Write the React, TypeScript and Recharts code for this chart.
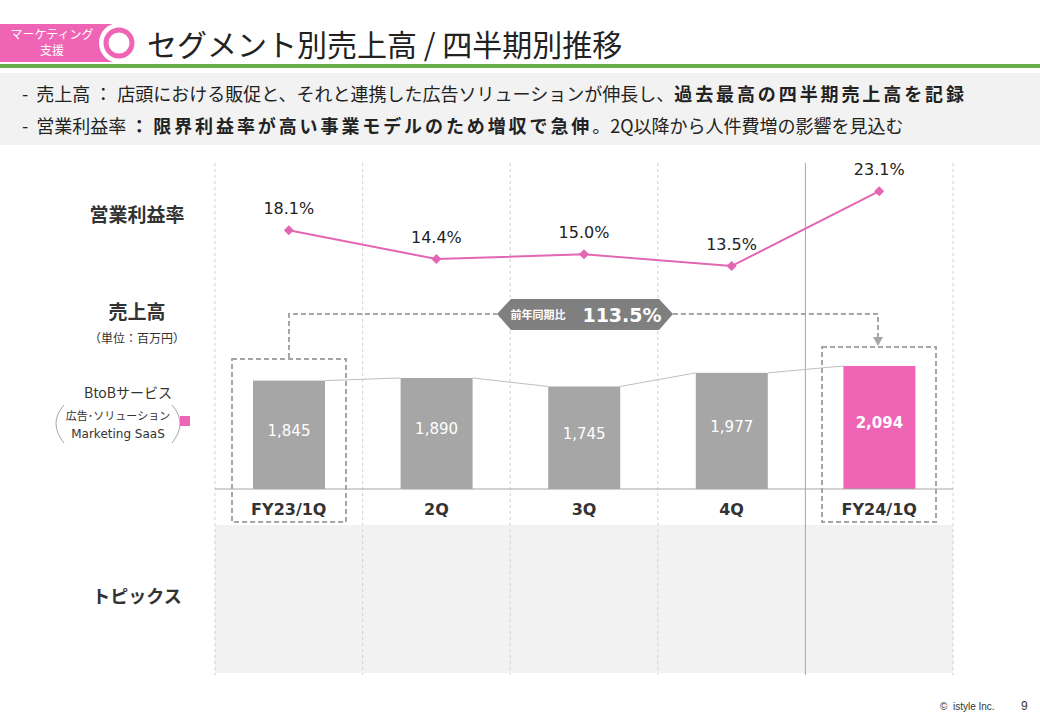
import { ComposedChart, Bar, Line, XAxis, YAxis, Cell, LabelList } from "recharts";

const quarters = ["FY23/1Q", "2Q", "3Q", "4Q", "FY24/1Q"];
const sales = [1845, 1890, 1745, 1977, 2094];
const margins = [18.1, 14.4, 15.0, 13.5, 23.1];
const barColors = ["#A6A6A6", "#A6A6A6", "#A6A6A6", "#A6A6A6", "#F064B6"];

const data = quarters.map((q, i) => ({ q, sales: sales[i], margin: margins[i] }));

const JP = "'Noto Sans CJK JP', 'Noto Sans', sans-serif";
const NUM = "'DejaVu Sans', Verdana, sans-serif";
const PINK = "#E366B3";

const CHART_LEFT = 215;
const CHART_W = 738;
const BAND = CHART_W / quarters.length;

function BarWithLink(props: any) {
  const { x, y, width, height, index } = props;
  const next = sales[index + 1];
  let link = null;
  if (next !== undefined) {
    const nextY = y + height - (height * next) / sales[index];
    link = <line x1={x + width} y1={y} x2={x + BAND} y2={nextY} stroke="#BFBFBF" strokeWidth={1} />;
  }
  return (
    <g>
      <rect x={x} y={y} width={width} height={height} fill={barColors[index]} />
      {link}
    </g>
  );
}

function Diamond(props: any) {
  const { cx, cy, index } = props;
  if (cx == null || cy == null) return <g key={index} />;
  const s = 5;
  return <path key={index} d={`M${cx},${cy - s}L${cx + s},${cy}L${cx},${cy + s}L${cx - s},${cy}Z`} fill={PINK} />;
}

function QuarterTick(props: any) {
  const { x, y, payload } = props;
  return (
    <text x={x} y={y + 18} textAnchor="middle" fontFamily={NUM} fontWeight="bold" fontSize={16} fill="#333">
      {payload.value}
    </text>
  );
}

function SalesLabel(props: any) {
  const { x, y, width, height, value, index } = props;
  const last = index === quarters.length - 1;
  return (
    <text
      x={x + width / 2}
      y={y + height / 2 - 4}
      textAnchor="middle"
      dominantBaseline="central"
      fontFamily={NUM}
      fontSize={15}
      fontWeight={last ? "bold" : "normal"}
      fill="#fff"
    >
      {value.toLocaleString("en-US")}
    </text>
  );
}

const separators = [0, 1, 2, 3, 4, 5].map((i) => CHART_LEFT + i * BAND);

const boldStyle = { fontWeight: "bold" as const, letterSpacing: 2.9 };
const colonStyle = { margin: "0 5px 0 4px" };

export default function App() {
  return (
    <div style={{ position: "absolute", left: 0, top: 0, width: 1040, height: 720, background: "#fff", overflow: "hidden", fontFamily: JP }}>
      {/* header */}
      <svg width={1040} height={70} style={{ position: "absolute", left: 0, top: 0 }}>
        <rect x={0} y={24} width={112} height={38} fill="#F064B6" />
        <circle cx={119} cy={43} r={20} fill="#fff" />
        <circle cx={119} cy={43} r={13} fill="none" stroke="#F064B6" strokeWidth={5} />
        <text x={52} y={39} textAnchor="middle" fill="#fff" fontSize={12} fontFamily={JP}>マーケティング</text>
        <text x={52} y={55} textAnchor="middle" fill="#fff" fontSize={12} fontFamily={JP}>支援</text>
        <text x={147} y={56} fill="#222" fontSize={30} fontFamily={JP}>セグメント別売上高 / 四半期別推移</text>
        <rect x={0} y={64} width={1040} height={4} fill="#6AAE4B" />
      </svg>

      {/* summary box */}
      <div style={{ position: "absolute", left: 0, top: 73, width: 1040, height: 72, background: "#F2F2F2" }}>
        <div style={{ position: "absolute", left: 22, top: 7, fontSize: 18, color: "#222", whiteSpace: "nowrap" }}>
          -&nbsp; 売上高<span style={colonStyle}>：</span>店頭における販促と、それと連携した広告ソリューションが伸長し、<span style={boldStyle}>過去最高の四半期売上高を記録</span>
        </div>
        <div style={{ position: "absolute", left: 22, top: 39, fontSize: 18, color: "#222", whiteSpace: "nowrap" }}>
          -&nbsp; 営業利益率<span style={{ ...colonStyle, fontWeight: "bold" }}>：</span><span style={boldStyle}>限界利益率が高い事業モデルのため増収で急伸</span>。2Q以降から人件費増の影響を見込む
        </div>
      </div>

      {/* left labels */}
      <div style={{ position: "absolute", left: 57, width: 160, top: 200, textAlign: "center", fontSize: 19, fontWeight: "bold", color: "#333" }}>営業利益率</div>
      <div style={{ position: "absolute", left: 57, width: 160, top: 297, textAlign: "center", fontSize: 19, fontWeight: "bold", color: "#333" }}>売上高</div>
      <div style={{ position: "absolute", left: 57, width: 160, top: 329, textAlign: "center", fontSize: 12, color: "#333" }}>（単位：百万円）</div>
      <div style={{ position: "absolute", left: 57, width: 160, top: 582, textAlign: "center", fontSize: 18, fontWeight: "bold", color: "#333" }}>トピックス</div>

      <svg width={215} height={100} style={{ position: "absolute", left: 0, top: 375 }}>
        <text x={128} y={23} textAnchor="middle" fontSize={14} fill="#333" fontFamily={JP}>BtoBサービス</text>
        <path d="M64,30 Q48,48 64,68" fill="none" stroke="#A6A6A6" strokeWidth={1} />
        <path d="M172,30 Q188,48 172,68" fill="none" stroke="#A6A6A6" strokeWidth={1} />
        <text x={118} y={45} textAnchor="middle" fontSize={11} fill="#333" fontFamily={JP}>広告･ソリューション</text>
        <text x={118} y={63} textAnchor="middle" fontSize={12} fill="#333" fontFamily={NUM}>Marketing SaaS</text>
        <rect x={180} y={41} width={10} height={10} fill="#F064B6" />
      </svg>

      {/* background of columns */}
      <svg width={1040} height={720} style={{ position: "absolute", left: 0, top: 0 }}>
        <rect x={CHART_LEFT} y={525} width={CHART_W} height={148} fill="#F2F2F2" />
        {separators.map((sx, i) => (
          <line
            key={i}
            x1={sx}
            x2={sx}
            y1={163}
            y2={675}
            stroke={i === 4 ? "#A6A6A6" : "#D0D0D0"}
            strokeWidth={1}
            strokeDasharray={i === 4 ? undefined : "3 3"}
          />
        ))}
      </svg>

      {/* chart */}
      <div style={{ position: "absolute", left: CHART_LEFT, top: 160 }}>
        <ComposedChart width={CHART_W} height={365} data={data} margin={{ top: 0, right: 0, bottom: 0, left: 0 }}>
          <XAxis dataKey="q" height={36} axisLine={{ stroke: "#A6A6A6" }} tickLine={false} tick={<QuarterTick />} interval={0} />
          <YAxis yAxisId="sales" hide domain={[0, 5600]} />
          <YAxis yAxisId="pct" hide domain={[-15.1, 27.1]} />
          <Bar yAxisId="sales" dataKey="sales" barSize={72} shape={<BarWithLink />} isAnimationActive={false}>
            {data.map((d, i) => (
              <Cell key={d.q} fill={barColors[i]} />
            ))}
            <LabelList dataKey="sales" content={<SalesLabel />} />
          </Bar>
          <Line
            yAxisId="pct"
            dataKey="margin"
            stroke={PINK}
            strokeWidth={2}
            dot={Diamond}
            activeDot={false}
            isAnimationActive={false}
          >
            <LabelList
              dataKey="margin"
              position="top"
              offset={16}
              formatter={(v: any) => `${Number(v).toFixed(1)}%`}
              style={{ fontFamily: NUM, fontSize: 16, fill: "#222" }}
            />
          </Line>
        </ComposedChart>
      </div>

      {/* annotations */}
      <svg width={1040} height={720} style={{ position: "absolute", left: 0, top: 0, pointerEvents: "none" }}>
        <rect x={232} y={359} width={114} height={163} fill="none" stroke="#A6A6A6" strokeWidth={2} strokeDasharray="5 3" />
        <rect x={822} y={347} width={114} height={175} fill="none" stroke="#A6A6A6" strokeWidth={2} strokeDasharray="5 3" />
        <polyline points="289,358 289,314 497,314" fill="none" stroke="#A6A6A6" strokeWidth={2} strokeDasharray="5 3" />
        <polyline points="673,314 878,314 878,338" fill="none" stroke="#A6A6A6" strokeWidth={2} strokeDasharray="5 3" />
        <path d="M873,337 L883,337 L878,346 Z" fill="#A6A6A6" />
        <path d="M497,314 L511,299 L659,299 L673,314 L659,330 L511,330 Z" fill="#7F7F7F" />
        <text x={538} y={319} textAnchor="middle" fontSize={11} fontWeight="bold" fill="#fff" fontFamily={JP}>前年同期比</text>
        <text x={622} y={322} textAnchor="middle" fontSize={19} fontWeight="bold" fill="#fff" fontFamily={NUM}>113.5%</text>
      </svg>

      {/* footer */}
      <div style={{ position: "absolute", left: 940, top: 701, fontSize: 10, color: "#333", fontFamily: "'Liberation Sans', Arial, sans-serif" }}>©&nbsp; istyle Inc.</div>
      <div style={{ position: "absolute", left: 1021, top: 699, fontSize: 12, color: "#333", fontFamily: "'Liberation Sans', Arial, sans-serif" }}>9</div>
    </div>
  );
}
